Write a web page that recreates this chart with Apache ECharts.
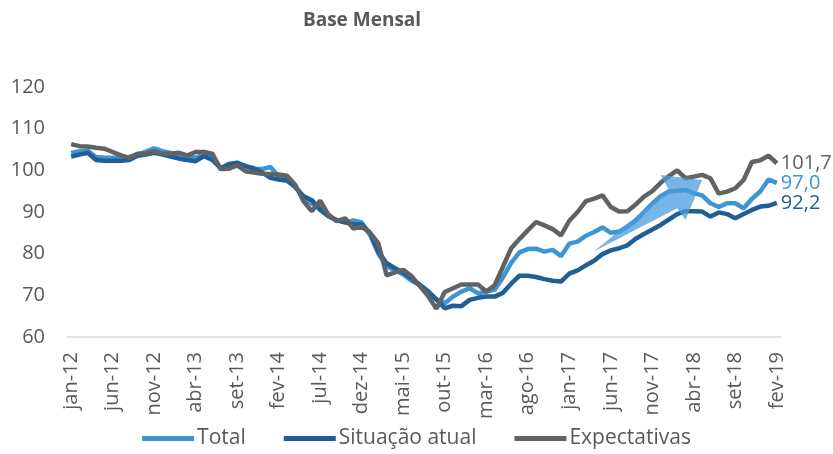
<!DOCTYPE html>
<html>
<head>
<meta charset="utf-8">
<script src="https://cdn.jsdelivr.net/npm/echarts@6/dist/echarts.min.js"></script>
<style>
  html, body { margin: 0; padding: 0; background: #fff; }
  #chart { width: 833px; height: 454px; }
</style>
</head>
<body>
<div id="chart"></div>
<script>
// meses jan-12 .. fev-19
const monthNames = ['jan', 'fev', 'mar', 'abr', 'mai', 'jun', 'jul', 'ago', 'set', 'out', 'nov', 'dez'];
const years = [12, 13, 14, 15, 16, 17, 18, 19];
const categories = [];
years.forEach(y => monthNames.forEach(m => { if (categories.length < 86) categories.push(m + '-' + y); }));

const total = [
  104.2, 104.6, 104.7, 103.2, 103.0, 103.0, 103.0, 103.2, 103.8, 104.5, 105.3, 104.6,
  104.2, 103.5, 103.3, 103.0, 103.8, 103.2, 100.5, 101.0, 101.8, 101.0, 100.4, 100.3,
  100.8, 98.5, 98.0, 96.0, 93.5, 92.0, 91.0, 89.0, 88.0, 87.5, 88.0, 87.5,
  84.5, 80.0, 77.0, 76.0, 75.0, 73.5, 72.5, 71.0, 69.0, 68.1, 69.7, 70.9,
  71.7, 70.5, 70.9, 71.3, 74.3, 77.8, 80.3, 81.1, 81.2, 80.5, 80.9, 79.4,
  82.4, 82.9, 84.3, 85.2, 86.3, 85.0, 85.3, 86.5, 88.0, 90.0, 92.0, 93.8,
  94.9, 95.1, 95.3, 94.5, 94.0, 92.1, 91.2, 92.1, 92.1, 90.9, 93.2, 94.9,
  97.8, 97.0
];
const situacaoAtual = [
  103.3, 103.8, 104.2, 102.5, 102.3, 102.3, 102.3, 102.5, 103.5, 103.8, 104.2, 103.8,
  103.3, 102.8, 102.5, 102.2, 103.4, 102.5, 100.5, 101.5, 101.8, 101.0, 100.5, 99.5,
  98.2, 97.8, 97.5, 96.0, 93.8, 92.8, 90.5, 89.0, 88.0, 87.5, 87.0, 87.0,
  85.0, 80.5, 77.7, 76.5, 75.5, 74.0, 72.5, 70.8, 69.0, 66.9, 67.5, 67.4,
  68.9, 69.4, 69.7, 69.7, 70.6, 72.8, 74.7, 74.7, 74.4, 73.9, 73.5, 73.3,
  75.2, 76.0, 77.2, 78.3, 79.9, 80.8, 81.3, 82.0, 83.6, 84.7, 85.8, 86.9,
  88.2, 89.5, 90.2, 90.2, 90.1, 88.9, 89.9, 89.5, 88.5, 89.5, 90.5, 91.3,
  91.5, 92.2
];
const expectativas = [
  106.3, 105.8, 105.7, 105.4, 105.2, 104.4, 103.6, 103.0, 104.0, 104.0, 104.6, 104.0,
  104.0, 104.2, 103.6, 104.4, 104.4, 104.0, 100.3, 100.4, 101.2, 99.8, 99.5, 99.2,
  99.1, 99.0, 98.7, 96.5, 92.5, 90.2, 92.7, 89.3, 87.8, 88.5, 86.0, 86.5,
  85.0, 82.5, 74.8, 75.5, 76.1, 74.6, 72.2, 69.8, 66.8, 70.8, 71.7, 72.6,
  72.6, 72.6, 70.9, 72.4, 76.8, 81.3, 83.5, 85.6, 87.6, 86.8, 85.9, 84.4,
  87.9, 90.0, 92.6, 93.2, 94.0, 91.2, 90.1, 90.2, 91.8, 93.7, 95.0, 97.0,
  98.6, 100.0, 98.1, 98.5, 98.9, 98.1, 94.4, 94.9, 95.7, 97.7, 102.0, 102.4,
  103.5, 101.7
];

// seta de destaque (índice do mês, valor)
const arrowPts = [
  [63.3, 80.6], [71.7, 95.3], [70.7, 98.9], [75.95, 97.7], [74.3, 88.1], [73.3, 90.9]
];

const colTotal = '#3E95D6';
const colAtual = '#205F95';
const colExp = '#5F6366';
const font = 'Open Sans';

const chart = echarts.init(document.getElementById('chart'));

function lineSeries(name, data, color) {
  return {
    name: name,
    type: 'line',
    data: data,
    symbol: 'none',
    lineStyle: { color: color, width: 4.5 },
    itemStyle: { color: color },
    endLabel: {
      show: true, distance: 4,
      color: color, fontFamily: font, fontSize: 20,
      formatter: p => p.value.toFixed(1).replace('.', ',')
    }
  };
}

chart.setOption({
  animation: false,
  title: {
    text: 'Base Mensal',
    left: 357, top: 6, textAlign: 'center',
    textStyle: { fontFamily: font, fontSize: 19, fontWeight: 'bold', color: '#595959' }
  },
  grid: { left: 67, right: 52, top: 87, bottom: 117 },
  legend: {
    data: ['Total', 'Situação atual', 'Expectativas'],
    bottom: 0, left: 'center',
    icon: 'rect', itemWidth: 52, itemHeight: 5, itemGap: 38,
    textStyle: { fontFamily: font, fontSize: 21, color: '#595959', padding: [0, 0, 0, -2] }
  },
  xAxis: {
    type: 'category',
    data: categories,
    boundaryGap: true,
    axisLine: { lineStyle: { color: '#D9D9D9', width: 1.5 } },
    axisTick: { interval: 4, inside: true, length: 8, lineStyle: { color: '#D9D9D9' } },
    axisLabel: { interval: 4, rotate: 90, margin: 15, fontFamily: font, fontSize: 20, color: '#595959' }
  },
  yAxis: {
    type: 'value',
    min: 60, max: 120, interval: 10,
    axisLine: { show: false },
    axisTick: { show: false },
    splitLine: { show: false },
    axisLabel: { margin: 22, fontFamily: font, fontSize: 20, color: '#595959' }
  },
  series: [
    lineSeries('Total', total, colTotal),
    lineSeries('Situação atual', situacaoAtual, colAtual),
    lineSeries('Expectativas', expectativas, colExp),
    {
      type: 'custom',
      silent: true,
      clip: false,
      z: 5,
      data: [[0, 60]],
      renderItem: (params, api) => ({
        type: 'polygon',
        shape: { points: arrowPts.map(p => api.coord(p)) },
        style: { fill: 'rgba(75, 155, 220, 0.75)', stroke: 'none' }
      })
    }
  ]
});
</script>
</body>
</html>
